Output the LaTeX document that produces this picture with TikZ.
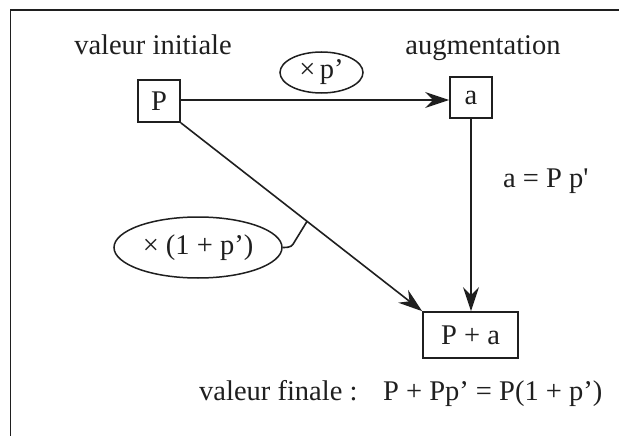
\documentclass[tikz,border=0pt]{standalone}
\usepackage{fontspec}
\setmainfont{Liberation Serif}
\usetikzlibrary{arrows.meta,shapes.geometric,calc}
\definecolor{ink}{gray}{0.12}
\begin{document}
\begin{tikzpicture}[x=1pt,y=-1pt,
  every node/.style={font=\fontsize{28.5}{32}\selectfont, text=ink},
  box/.style={draw=ink, line width=1.7pt, inner sep=0pt},
  oval/.style={draw=ink, ellipse, line width=1.5pt, inner sep=0pt},
  conn/.style={draw=ink, line width=1.6pt},
  arr/.style={conn, -{Stealth[length=24pt,width=16pt,inset=8pt]}},
  lbl/.style={inner sep=0pt}]
\useasboundingbox (0,0) rectangle (619,436);
\fill[white] (0,0) rectangle (619,436);
\draw[ink, line width=1.7pt] (10.5,436) -- (10.5,10) -- (619,10);
% nodes
\node[box, minimum width=42pt, minimum height=42pt] (P) at (159,101) {P};
\node[box, minimum width=42pt, minimum height=41pt] (a) at (471,97.5) {a};
\node[box, minimum width=95pt, minimum height=46pt] (PA) at (470.5,335) {P + a};
\node[oval, minimum width=83pt, minimum height=41pt] (e1) at (321.5,72.5) {×\hspace{0.15em}p’};
\node[oval, minimum width=168pt, minimum height=61pt] (e2) at (198,247.5) {× (1 + p’)};
% labels
\node[lbl, anchor=base] (vi) at (153,55) {valeur initiale};
\node[lbl, anchor=base] (au) at (483,55) {augmentation};
\node[lbl, anchor=base west] (eq) at (503,187) {a = P p\textquotesingle};
\node[lbl, anchor=base west] (vf) at (199,400) {valeur finale :\hspace{0.9em}P + Pp’ = P(1 + p’)};
% connectors
\draw[arr] (P.east |- 0,100) -- (a.west |- 0,100);
\draw[arr] (a.south) -- (a.south |- PA.north);
\draw[arr] (P.south east) -- (PA.north west);
\coordinate (d) at ($(P.south east)!0.523!(PA.north west)$);
\draw[conn] (e2.east) .. controls +(9,0) and +(-3,5) .. (295,241) -- (d);
\end{tikzpicture}
\end{document}
